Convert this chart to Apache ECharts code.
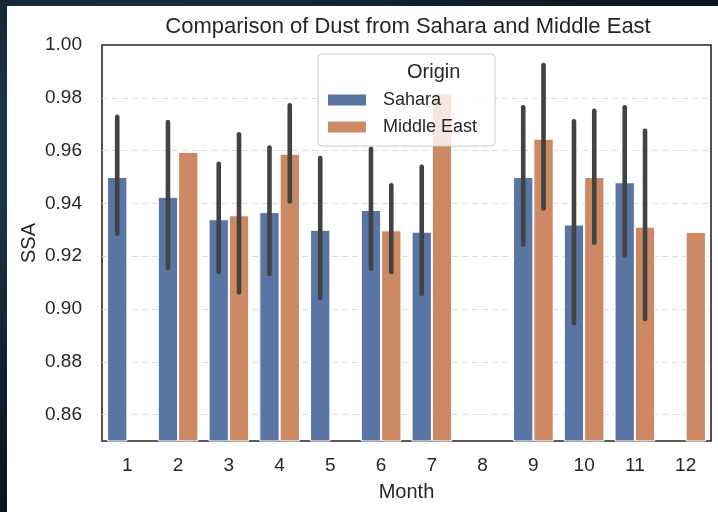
<!DOCTYPE html>
<html>
<head>
<meta charset="utf-8">
<script src="https://cdn.jsdelivr.net/npm/echarts@6/dist/echarts.min.js"></script>
<style>
  html, body { margin: 0; padding: 0; width: 718px; height: 512px; overflow: hidden;
    background: radial-gradient(ellipse at 20% 30%, #24425a 0%, #10202d 45%, #070d13 100%); }
  #chart { position: absolute; left: 7px; top: 6px; width: 711px; height: 506px; background: #ffffff; }
</style>
</head>
<body>
<div id="chart"></div>
<script>
// Monthly mean single-scattering albedo (SSA) by dust origin, with 95% CI whiskers
const months = ['1', '2', '3', '4', '5', '6', '7', '8', '9', '10', '11', '12'];

const saharaMean = [0.950, 0.9425, 0.934, 0.9367, 0.930, 0.9375, 0.9293, null, 0.950, 0.932, 0.948, null];
const saharaLow  = [0.9285, 0.9155, 0.914, 0.9133, 0.9042, 0.9152, 0.9058, null, 0.9244, 0.8946, 0.9203, null];
const saharaHigh = [0.9728, 0.9708, 0.955, 0.9612, 0.9572, 0.9607, 0.9539, null, 0.9764, 0.9711, 0.9764, null];

const middleEastMean = [null, 0.9595, 0.9355, 0.9588, null, 0.9298, 0.9817, null, 0.9645, 0.950, 0.9312, 0.9292];
const middleEastLow  = [null, null, 0.9063, 0.9407, null, 0.914, null, null, 0.9381, 0.9251, 0.8962, null];
const middleEastHigh = [null, null, 0.9662, 0.9772, null, 0.9469, null, null, 0.9924, 0.9751, 0.9675, null];

const yMin = 0.85, yMax = 1.00, yStep = 0.01;

const FONT = '"Liberation Sans", Arial, Helvetica, sans-serif';
const INK = '#262626';
const BLUE = '#5975a4';
const ORANGE = '#cc8963';
const WHISKER = '#424242';
const GRID = '#dcdcdc';
const NONE = 'rgba(0,0,0,0)';

// Grid lines only on the labelled (even hundredth) ticks, none on the frame edges
const gridColors = [];
for (let k = 0; k <= Math.round((yMax - yMin) / yStep); k++) {
  const hundredths = Math.round((yMin + k * yStep) * 100);
  const edge = k === 0 || hundredths === Math.round(yMax * 100);
  gridColors.push(!edge && hundredths % 2 === 0 ? GRID : NONE);
}

function whiskerData(low, high) {
  const out = [];
  low.forEach((lo, i) => {
    if (lo != null && high[i] != null) out.push([i, lo, high[i]]);
  });
  return out;
}

// Draws a vertical CI line centred on one bar of the dodged pair
function whiskerRenderer(side) {
  return function (params, api) {
    const cat = api.value(0);
    const lo = api.coord([cat, api.value(1)]);
    const hi = api.coord([cat, api.value(2)]);
    const band = api.size([1, 0])[0];
    const x = lo[0] + side * band * 0.2;
    return {
      type: 'line',
      shape: { x1: x, y1: lo[1], x2: x, y2: hi[1] },
      style: { stroke: WHISKER, lineWidth: 4.6, lineCap: 'round' }
    };
  };
}

const chart = echarts.init(document.getElementById('chart'), null, { renderer: 'canvas' });

chart.setOption({
  animation: false,
  backgroundColor: '#ffffff',
  textStyle: { fontFamily: FONT },
  title: {
    text: 'Comparison of Dust from Sahara and Middle East',
    left: 396, top: 5, textAlign: 'center',
    textStyle: { fontFamily: FONT, fontSize: 22, fontWeight: 'normal', color: INK }
  },
  grid: {
    left: 95, right: 7, top: 39, bottom: 71,
    outerBoundsMode: 'none',
    show: true, borderColor: INK, borderWidth: 1.6, backgroundColor: 'transparent'
  },
  legend: {
    data: ['Sahara', 'Middle East'],
    orient: 'vertical',
    left: 311, top: 48,
    padding: [37, 18, 10, 10],
    itemWidth: 38, itemHeight: 11, itemGap: 9,
    icon: 'rect',
    backgroundColor: 'rgba(255,255,255,0.8)',
    borderColor: '#cccccc', borderWidth: 1, borderRadius: 4,
    textStyle: { fontFamily: FONT, fontSize: 18, color: INK, padding: [0, 0, 0, 12] },
    itemStyle: { borderWidth: 0 }
  },
  graphic: [{
    type: 'text', left: 400, top: 56, z: 100,
    style: { text: 'Origin', x: 0, textAlign: 'center', fill: INK, font: '20px ' + FONT }
  }],
  xAxis: {
    type: 'category', data: months,
    name: 'Month', nameLocation: 'middle', nameGap: 41,
    nameTextStyle: { fontFamily: FONT, fontSize: 20, color: INK },
    axisLine: { show: false }, axisTick: { show: false },
    axisLabel: { fontFamily: FONT, fontSize: 19, color: INK, margin: 15 },
    splitLine: { show: false }
  },
  yAxis: {
    type: 'value', min: yMin, max: yMax, interval: yStep,
    name: 'SSA', nameLocation: 'middle', nameGap: 63, nameRotate: 90,
    nameMoveOverlap: false,
    nameTextStyle: { fontFamily: FONT, fontSize: 20, color: INK },
    axisLine: { show: false }, axisTick: { show: false },
    axisLabel: {
      fontFamily: FONT, fontSize: 19, color: INK, margin: 20,
      formatter: v => (Math.round(v * 100) % 2 === 0 ? v.toFixed(2) : '')
    },
    splitLine: {
      show: true,
      lineStyle: { color: gridColors, type: [6, 4], width: 1 }
    }
  },
  series: [
    {
      name: 'Sahara', type: 'bar', data: saharaMean,
      barWidth: '40%', barGap: '0%',
      itemStyle: { color: BLUE, borderColor: '#ffffff', borderWidth: 1 }
    },
    {
      name: 'Middle East', type: 'bar', data: middleEastMean,
      barWidth: '40%', barGap: '0%',
      itemStyle: { color: ORANGE, borderColor: '#ffffff', borderWidth: 1 }
    },
    {
      type: 'custom', name: 'Sahara CI', data: whiskerData(saharaLow, saharaHigh),
      renderItem: whiskerRenderer(-1), z: 3, silent: true,
      encode: { x: 0, y: [1, 2] }
    },
    {
      type: 'custom', name: 'Middle East CI', data: whiskerData(middleEastLow, middleEastHigh),
      renderItem: whiskerRenderer(1), z: 3, silent: true,
      encode: { x: 0, y: [1, 2] }
    }
  ]
});
</script>
</body>
</html>
